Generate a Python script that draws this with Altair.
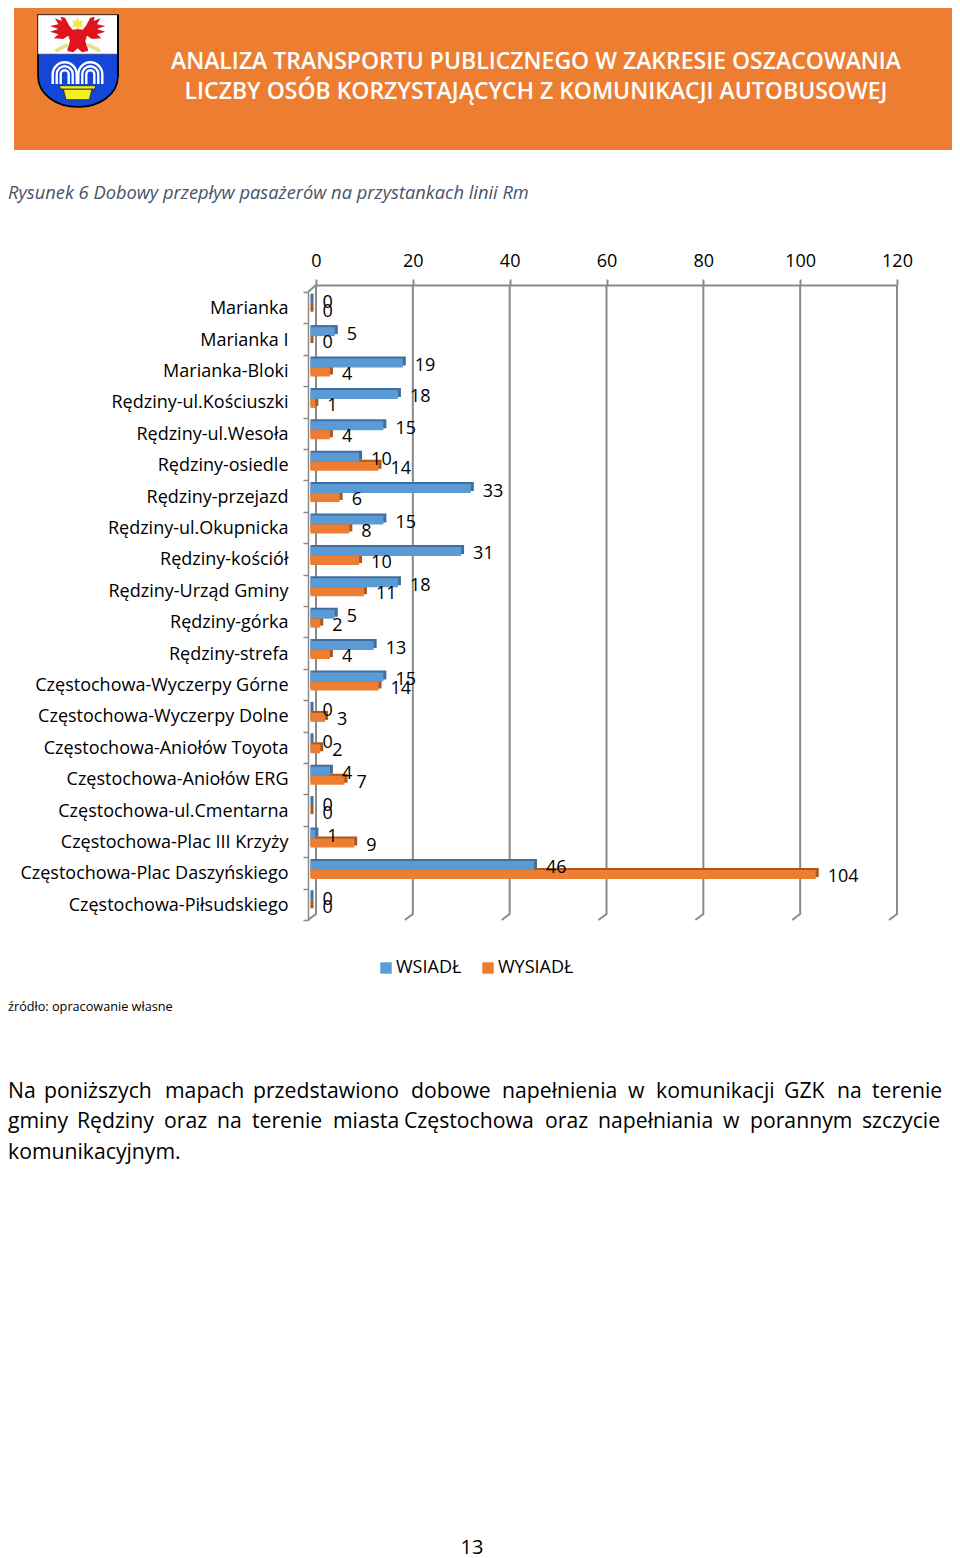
import altair as alt
import pandas as pd

stops = ["Marianka", "Marianka I", "Marianka-Bloki", "Rędziny-ul.Kościuszki", "Rędziny-ul.Wesoła",
         "Rędziny-osiedle", "Rędziny-przejazd", "Rędziny-ul.Okupnicka", "Rędziny-kościół",
         "Rędziny-Urząd Gminy", "Rędziny-górka", "Rędziny-strefa", "Częstochowa-Wyczerpy Górne",
         "Częstochowa-Wyczerpy Dolne", "Częstochowa-Aniołów Toyota", "Częstochowa-Aniołów ERG",
         "Częstochowa-ul.Cmentarna", "Częstochowa-Plac III Krzyży", "Częstochowa-Plac Daszyńskiego",
         "Częstochowa-Piłsudskiego"]
wsiadl = [0, 5, 19, 18, 15, 10, 33, 15, 31, 18, 5, 13, 15, 0, 0, 4, 0, 1, 46, 0]
wysiadl = [0, 0, 4, 1, 4, 14, 6, 8, 10, 11, 2, 4, 14, 3, 2, 7, 0, 9, 104, 0]
ticks = [0, 20, 40, 60, 80, 100, 120]

FONT = "Open Sans"
GRAY = "#8a8a8a"
BLUE, ORANGE = "#5B9BD5", "#ED7D31"
BLUE_D, ORANGE_D = "#3F6F9E", "#A9591F"

df = pd.DataFrame({"stop": stops * 2, "v": wsiadl + wysiadl, "zero": 0,
                   "series": ["WSIADŁ"] * 20 + ["WYSIADŁ"] * 20})
df_b = df[df.series == "WSIADŁ"]
df_o = df[df.series == "WYSIADŁ"]

front_x = alt.Scale(domain=[0, 120], range=[302.5, 885.5], nice=False, zero=False)
back_x = alt.Scale(domain=[0, 120], range=[308, 889], nice=False, zero=False)
band_y = alt.Scale(domain=stops, range=[284, 912], paddingInner=0, paddingOuter=0)
X = alt.X("v:Q", scale=front_x, axis=None)
X2 = alt.X2("zero:Q")
Y = alt.Y("stop:N", scale=band_y, sort=None, axis=None)

LX, LY = 78, 60


def txt(s, x, y, size, color="#000000", font=FONT, align="left", **kw):
    return alt.Chart(pd.DataFrame({"t": [s]})).mark_text(
        font=font, fontSize=size, color=color, align=align, baseline="middle", **kw
    ).encode(x=alt.value(max(x - 8, 0)), y=alt.value(y - 8), text="t:N")


def shape(path, fill=None, stroke=None, sw=1.0):
    kw = {"filled": fill is not None, "opacity": 1, "size": 4}
    if fill is not None:
        kw["fill"] = fill
    if stroke is not None:
        kw["stroke"] = stroke
        kw["strokeWidth"] = sw
    else:
        kw["strokeWidth"] = 0
    return alt.Chart(pd.DataFrame({"a": [1]})).mark_point(shape=path, **kw).encode(
        x=alt.value(LX - 8), y=alt.value(LY - 8))


def z(x, y):
    return (30 + x / 3 - LX, 15 + y / 3 - LY)


def poly(pts):
    return "M" + " L".join(f"{x:.1f},{y:.1f}" for x, y in (z(*p) for p in pts)) + " Z"


def mirror(pts):
    return [(286 - x, y) for x, y in pts]


def arch(cx, r, top=74.3, bot=84):
    a = cx - LX
    return f"M{a - r},{bot - LY} L{a - r},{top - LY} A{r},{r} 0 0 1 {a + r},{top - LY} L{a + r},{bot - LY}"


header_rect = alt.Chart(pd.DataFrame({"a": [1]})).mark_rect(color=ORANGE).encode(
    x=alt.value(14 - 8), x2=alt.value(952 - 8), y=alt.value(0), y2=alt.value(150 - 8))

shield = "M-40,-45 L40,-45 L40,16 C40,34 22,47 0,47 C-22,47 -40,34 -40,16 Z"
white_top = "M-40,-45 L40,-45 L40,-6 L-40,-6 Z"
right_edge = "M40,-45 L40,16"
half = [(143, 42), (128, 44), (118, 32), (105, 8), (92, 5), (95, 18), (75, 10), (85, 28), (60, 33), (85, 42), (60, 50),
        (85, 58), (72, 70), (100, 72), (115, 62), (120, 78), (113, 100), (112, 108), (130, 112), (143, 100)]
eagle = poly(half + list(reversed(mirror(half[:-1]))))
star_pts = [(143, 8), (149, 18), (160, 16), (155, 26), (160, 36), (149, 34), (143, 44), (137, 34), (126, 36),
            (131, 26), (126, 16), (137, 18)]
star = poly(star_pts)
claw = [(72, 105), (85, 97), (110, 85), (118, 92), (95, 105), (80, 112)]
bowl = [(100, 222), (186, 222), (178, 254), (108, 254)]
rim = [(88, 212), (198, 212), (194, 222), (92, 222)]

logo = [shape(shield, fill="#1446D8", stroke="#000000", sw=1.6),
        shape(white_top, fill="#FFFFFF", stroke="#777777", sw=0.6),
        shape(right_edge, stroke="#000000", sw=2),
        shape(eagle, fill="#E0141C"), shape(star, fill="#F2E64A"),
        shape(poly(claw), fill="#E4E08A"), shape(poly(mirror(claw)), fill="#E4E08A")]
for cx in (64.7, 90.3):
    for r in (12, 8, 4):
        logo.append(shape(arch(cx, r), stroke="#FFFFFF", sw=2.4))
logo += [shape(poly(bowl), fill="#F2F020", stroke="#222222", sw=0.8),
         shape(poly(rim), fill="#F2F020", stroke="#222222", sw=0.8)]

rows = []
for t in ticks:
    rows += [{"id": t, "o": 0, "tx": t, "py": 277}, {"id": t, "o": 1, "tx": t, "py": 906},
             {"id": t, "o": 2, "tx": t - 1.65, "py": 912}]
rows += [{"id": -1, "o": 0, "tx": 0, "py": 277}, {"id": -1, "o": 1, "tx": -1.65, "py": 284}]
frame = alt.Chart(pd.DataFrame(rows)).mark_line(color=GRAY, strokeWidth=2, interpolate="linear").encode(
    x=alt.X("tx:Q", scale=back_x, axis=alt.Axis(
        orient="top", offset=-277, values=ticks, format="d", tickSize=6, tickColor=GRAY, tickWidth=2,
        domainColor=GRAY, domainWidth=2, labelFont=FONT, labelFontSize=18, labelColor="#000000",
        labelPadding=9, labelFlush=False, grid=False, title=None)),
    y=alt.Y("py:Q", scale=None, axis=None),
    detail="id:N", order="o:Q")


def depth(d, off, col):
    return alt.Chart(d).mark_bar(size=9, yOffset=off - 2, xOffset=3, x2Offset=0, color=col).encode(x=X, x2=X2, y=Y)


color = alt.Color("series:N", scale=alt.Scale(domain=["WSIADŁ", "WYSIADŁ"], range=[BLUE, ORANGE]),
                  legend=alt.Legend(orient="none", legendX=369, legendY=951, direction="horizontal", title=None,
                                    symbolType="square", symbolSize=130, symbolStrokeWidth=0, labelFont=FONT,
                                    labelFontSize=18, labelColor="#000000", columnPadding=17, padding=0,
                                    labelOffset=1))
y_axis = alt.Y("stop:N", scale=band_y, sort=None, axis=alt.Axis(
    orient="left", offset=-300, tickBand="extent", tickSize=5, tickColor=GRAY, tickWidth=1.5,
    domainColor=GRAY, domainWidth=1.5, labelFont=FONT, labelFontSize=18, labelColor="#000000",
    labelPadding=15, labelOffset=1, labelLimit=320, title=None, grid=False, labelOverlap=False))

front_b = alt.Chart(df_b).mark_bar(size=9, yOffset=-7.5).encode(x=X, x2=X2, y=y_axis, color=color)
front_o = alt.Chart(df_o).mark_bar(size=9, yOffset=1.5).encode(x=X, x2=X2, y=Y, color=color)


def labels(d, off):
    return alt.Chart(d).mark_text(font=FONT, fontSize=18, color="#000000", align="left", baseline="middle",
                                  dx=12, yOffset=off).encode(x=X, y=Y, text="v:Q")


layers = [header_rect] + logo + [
    txt("ANALIZA TRANSPORTU PUBLICZNEGO W ZAKRESIE OSZACOWANIA", 536, 62, 23, "#FFFFFF", align="center", fontWeight=600),
    txt("LICZBY OSÓB KORZYSTAJĄCYCH Z KOMUNIKACJI AUTOBUSOWEJ", 536, 92, 23, "#FFFFFF", align="center", fontWeight=600),
    txt("Rysunek 6 Dobowy przepływ pasażerów na przystankach linii Rm", 4, 194, 18.3, "#44546A", fontStyle="italic"),
    frame,
    depth(df_b, -7.5, BLUE_D), depth(df_o, 1.5, ORANGE_D), front_b, front_o,
    labels(df_b, -4.5), labels(df_o, 4),
    txt("źródło: opracowanie własne", 4, 1007, 12.7),
]
para = [
    (1092, [("Na", 5), ("poniższych", 44), ("mapach", 165), ("przedstawiono", 253), ("dobowe", 411), ("napełnienia", 502),
            ("w", 628), ("komunikacji", 656), ("GZK", 784), ("na", 837), ("terenie", 872)]),
    (1122, [("gminy", 5), ("Rędziny", 77), ("oraz", 164), ("na", 217), ("terenie", 252), ("miasta", 333), ("Częstochowa", 404),
            ("oraz", 545), ("napełniania", 598), ("w", 723), ("porannym", 750), ("szczycie", 862)]),
    (1153, [("komunikacyjnym.", 5)]),
]
for y, words in para:
    for w, x in words:
        layers.append(txt(w, x, y, 21.2))
layers.append(txt("13", 472, 1548, 20, align="center"))

chart = alt.layer(*layers).resolve_scale(x="independent", y="independent").properties(
    width=944, height=1550, padding=0, background="#FFFFFF", autosize=alt.AutoSizeParams(type="none")
).configure_view(stroke=None)

chart.save("out.html", embed_options={"renderer": "svg", "actions": False})
